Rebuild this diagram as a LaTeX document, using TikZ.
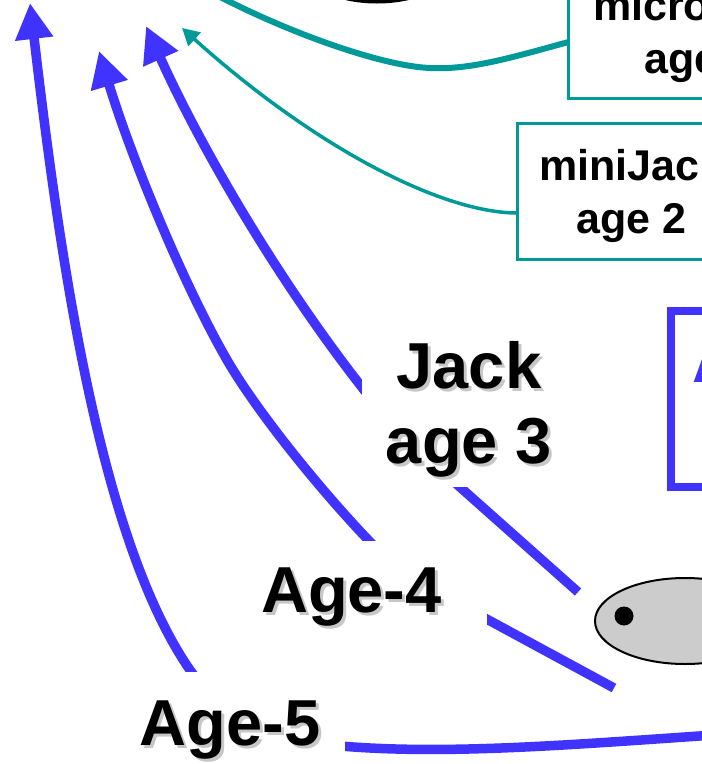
\documentclass[tikz,border=0pt]{standalone}
\usepackage{fontspec}
\setmainfont{Liberation Sans}
\usetikzlibrary{arrows.meta,shapes.geometric}
\definecolor{arrblue}{RGB}{64,51,255}
\definecolor{tealc}{RGB}{0,153,153}
\definecolor{ellgray}{RGB}{204,204,204}
\newcommand\shtxt[1]{\makebox[0pt][l]{\hspace{3pt}\raisebox{-3pt}{\textcolor{black!22}{#1}}}#1}
\begin{document}
\begin{tikzpicture}[x=1pt,y=-1pt,
 bluearr/.style={draw=arrblue, line width=9.5pt, -{Triangle[length=36pt,width=36pt]}},
 thickteal/.style={draw=tealc, line width=6pt, -{Triangle[length=22pt,width=22pt]}},
 thinteal/.style={draw=tealc, line width=3.5pt, -{Triangle[length=17pt,width=18pt]}},
 tealbox/.style={draw=tealc, fill=white, line width=3.5pt, inner sep=0pt, outer sep=0pt, align=center, font=\fontsize{43}{53}\selectfont\bfseries},
 agelab/.style={fill=white, inner sep=0pt, outer sep=0pt, align=center, font=\fontsize{65}{75}\selectfont\bfseries}]
\useasboundingbox (0,0) rectangle (702,764);
\clip (0,0) rectangle (702,764);

% objects
\node[ellipse, draw=black, line width=5pt, minimum width=150pt, minimum height=76pt, inner sep=0pt] (topobj) at (377,-37) {};
\node[tealbox, anchor=south west, minimum width=262pt, minimum height=136pt] (micro) at (568.5,98.5) {\rule{0pt}{42pt}microJack\\age 1};
\node[tealbox, anchor=north west, minimum width=228pt, minimum height=136pt] (mini) at (517.5,123.5) {\rule{0pt}{40pt}miniJack\\age 2};
\node[draw=arrblue, line width=8pt, inner sep=0pt, outer sep=0pt, anchor=north west, minimum width=300pt, minimum height=176pt] (bbox) at (671,311) {};
\node[anchor=base west, inner sep=0pt, text=arrblue, font=\fontsize{65}{75}\selectfont\bfseries] (blab) at (692,382) {A};
\node[ellipse, draw=black, line width=2pt, fill=ellgray, minimum width=180pt, minimum height=86pt, inner sep=0pt] (ell) at (685,621) {};
\node[circle, fill=black, minimum size=19pt, inner sep=0pt] (dot) at (624,616) {};

% connector ends
\coordinate (tmicro) at (185,-22);
\coordinate (tmini) at (182,28);
\coordinate (t3) at (146,26);
\coordinate (t4) at (99,51);
\coordinate (t5) at (30,3);
\coordinate (s3) at (578,592);
\coordinate (s4) at (614,688);
\coordinate (s5) at (760,732);

% teal connectors
\draw[thickteal] ([yshift=-11.5pt]micro.west) .. controls (510,58) and (470,70) .. (430,68)
   .. controls (380,66) and (280,30) .. (tmicro);
\draw[thinteal] ([yshift=-21.5pt]mini.west) .. controls (440,213) and (312,145) .. (tmini);

% blue connectors
\draw[bluearr] (s3) -- (452,480) -- (372,400) .. controls (280,285) and (200,146) .. (t3);
\draw[bluearr] (s4) -- (470,610) -- (380,552) .. controls (335,507) and (262,420) .. (227,360)
   .. controls (181,280) and (129,151) .. (t4);
\draw[bluearr] (s5) .. controls (600,742) and (450,757) .. (330,745)
   .. controls (260,740) and (215,705) .. (190,670)
   .. controls (100,540) and (60,260) .. (t5);

% labels
\node[agelab, anchor=south west, minimum width=214pt, minimum height=153pt] (jack) at (362,487) {\shtxt{Jack}\\\shtxt{age 3}};
\node[agelab, anchor=north east, minimum width=271pt, minimum height=116pt] (age4) at (487,541) {\shtxt{Age-4}};
\node[agelab, anchor=north east, minimum width=230pt, minimum height=120pt] (age5) at (345,672) {\shtxt{Age-5}};
\end{tikzpicture}
\end{document}
